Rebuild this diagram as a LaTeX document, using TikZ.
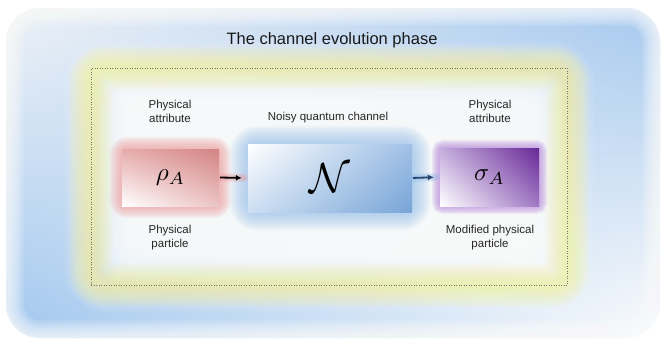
\documentclass[tikz,border=0pt]{standalone}
\usepackage{fontspec}
\setmainfont{Liberation Sans}
\usetikzlibrary{backgrounds,arrows.meta,shadings}
\definecolor{bgUL}{RGB}{238,242,247}
\definecolor{bgUR}{RGB}{165,200,238}
\definecolor{bgLL}{RGB}{160,198,238}
\definecolor{bgLR}{RGB}{252,252,252}
\definecolor{bgyellow}{RGB}{246,240,140}
\definecolor{redglow}{RGB}{238,150,150}
\definecolor{blueglow}{RGB}{140,184,232}
\definecolor{purpglow}{RGB}{185,140,220}
\definecolor{rhoUR}{RGB}{212,132,132}
\definecolor{rhoUL}{RGB}{230,172,172}
\definecolor{rhoLR}{RGB}{236,196,196}
\definecolor{nUR}{RGB}{160,192,230}
\definecolor{nLR}{RGB}{120,165,215}
\definecolor{nLL}{RGB}{205,222,242}
\definecolor{sUR}{RGB}{104,40,150}
\definecolor{sUL}{RGB}{196,172,220}
\definecolor{sLR}{RGB}{160,120,196}
\definecolor{arrowblue}{RGB}{40,70,110}
\begin{document}
\begin{tikzpicture}[x=1pt,y=-1pt,
  lbl/.style={font=\fontsize{11.5}{14}\selectfont, align=center, text=black!85, inner sep=0},
  box/.style={inner sep=0, draw=none},
  conn/.style={line width=1.8pt, -{Latex[length=6pt,width=6pt]}, shorten <=1pt, shorten >=6pt}]
\useasboundingbox (0,0) rectangle (665,346);

% main nodes
\node[draw=black!55, dotted, line width=0.5pt, minimum width=476pt, minimum height=217pt, inner sep=0] (frame) at (329,176.5) {};
\node[font=\fontsize{16.5}{18}\selectfont, text=black!90] (title) at (332,40) {The channel evolution phase};

\node[box, minimum width=97pt, minimum height=57pt, lower left=white, upper right=rhoUR, upper left=rhoUL, lower right=rhoLR] (rho) at (170.5,177.5) {\scalebox{2.5}{$\rho_A$}};
\node[box, minimum width=164pt, minimum height=68pt, upper left=white, lower right=nLR, upper right=nUR, lower left=nLL] (chan) at (330,178) {\scalebox{4.2}{$\mathcal{N}$}};
\node[box, minimum width=99pt, minimum height=58pt, lower left=white, upper right=sUR, upper left=sUL, lower right=sLR] (sigma) at (489.5,177) {\scalebox{2.5}{$\sigma_A$}};

\node[lbl] (attrL) at (170,111) {Physical\\attribute};
\node[lbl] (noisy) at (328,117.5) {Noisy quantum channel};
\node[lbl] (attrR) at (490,111) {Physical\\attribute};
\node[lbl] (partL) at (170,238) {Physical\\particle};
\node[lbl] (partR) at (490,238) {Modified physical\\particle};

\draw[conn, black] (rho.east) -- (chan.west);
\draw[conn, arrowblue] (chan.east) -- (sigma.west);

\begin{pgfonlayer}{background}
  \fill[white] (0,0) rectangle (665,346);
  % big blue diagonal-gradient field with soft edge
  \shade[rounded corners=34pt, upper left=bgUL, upper right=bgUR, lower left=bgLL, lower right=bgLR] (6,8) rectangle (660,338);
  \foreach \w in {3,6,...,36}
    \draw[white, line width=\w pt, opacity=0.1, rounded corners=34pt] (6,8) rectangle (660,338);
  % lighter zone around the frame
  \foreach \w in {6,12,...,54}
    \draw[white, line width=\w pt, opacity=0.07, rounded corners=16pt] (frame.north west) rectangle (frame.south east);
  % soft white interior (nested fills for a gradual edge)
  \foreach \i in {0,...,11}
    \fill[white, opacity=0.16, rounded corners=18pt] ({98+2.5*\i},{72+2.5*\i}) rectangle ({564-2.5*\i},{282-2.5*\i});
  % yellow glow around the dotted frame
  \foreach \w in {4,8,...,44}
    \draw[bgyellow, line width=\w pt, opacity=0.075, rounded corners=14pt] (frame.north west) rectangle (frame.south east);
  % box glows
  \foreach \w in {3,6,...,24}
    \draw[redglow, line width=\w pt, opacity=0.11, rounded corners=6pt] (rho.north west) rectangle (rho.south east);
  \foreach \w in {4,8,...,36}
    \draw[blueglow, line width=\w pt, opacity=0.09, rounded corners=10pt] (chan.north west) rectangle (chan.south east);
  \foreach \w in {2,4,...,16}
    \draw[purpglow, line width=\w pt, opacity=0.13, rounded corners=4pt] (sigma.north west) rectangle (sigma.south east);
  % arrow glows
  \foreach \w in {3,5,7,9}
    \draw[redglow, line width=\w pt, opacity=0.15, shorten >=4pt, line cap=round] (rho.east) -- (chan.west);
  \foreach \w in {3,5,7,9}
    \draw[blueglow, line width=\w pt, opacity=0.15, shorten >=4pt, line cap=round] (chan.east) -- (sigma.west);
\end{pgfonlayer}
\end{tikzpicture}
\end{document}
